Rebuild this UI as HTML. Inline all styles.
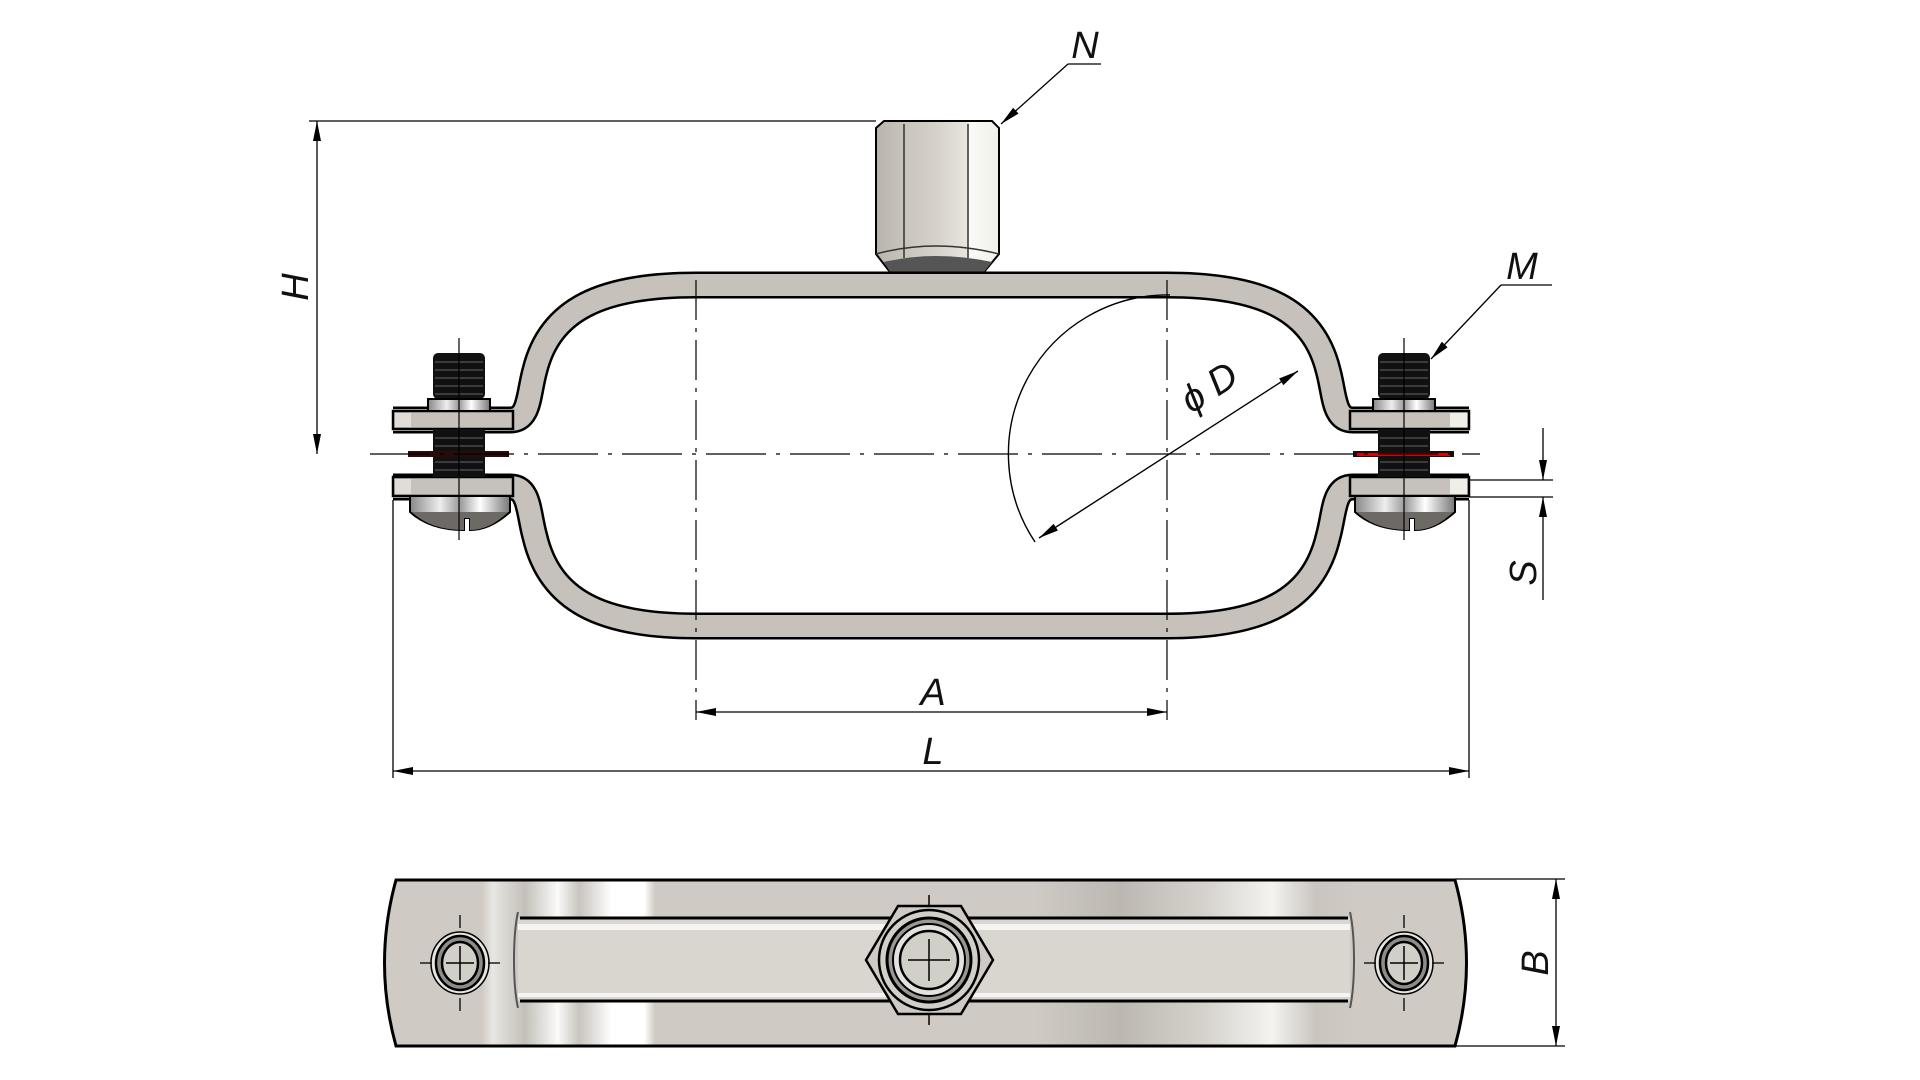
<!DOCTYPE html>
<html><head><meta charset="utf-8"><style>
html,body{margin:0;padding:0;background:#fff;}
svg{display:block}
text{font-family:"Liberation Sans",sans-serif;font-style:italic;font-size:38px;fill:#111}
</style></head><body>
<svg width="1920" height="1080" viewBox="0 0 1920 1080" xmlns="http://www.w3.org/2000/svg">
<defs>
<marker id="ar" viewBox="0 0 20 8" refX="20" refY="4" markerWidth="20" markerHeight="8" markerUnits="userSpaceOnUse" orient="auto-start-reverse"><path d="M0,0 L20,4 L0,8 z" fill="#000"/></marker>
<linearGradient id="nutg" x1="0" x2="1" y1="0" y2="0">
<stop offset="0" stop-color="#b9b5ae"/><stop offset="0.25" stop-color="#c9c5bd"/><stop offset="0.5" stop-color="#d6d2ca"/><stop offset="0.75" stop-color="#e8e6e0"/><stop offset="0.76" stop-color="#fafaf6"/><stop offset="1" stop-color="#f0efe9"/></linearGradient>
<linearGradient id="headg" x1="0" x2="1"><stop offset="0" stop-color="#888"/><stop offset="0.3" stop-color="#eee"/><stop offset="0.5" stop-color="#999"/><stop offset="0.7" stop-color="#fff"/><stop offset="1" stop-color="#777"/></linearGradient>
<linearGradient id="botg" x1="0" x2="1">
<stop offset="0" stop-color="#cfcbc4"/><stop offset="0.09" stop-color="#cfcbc4"/><stop offset="0.1" stop-color="#e8e6e2"/><stop offset="0.13" stop-color="#c4c0b9"/><stop offset="0.16" stop-color="#fafaf8"/><stop offset="0.18" stop-color="#c8c4bd"/><stop offset="0.21" stop-color="#fff"/><stop offset="0.24" stop-color="#fff"/><stop offset="0.25" stop-color="#cfcbc4"/><stop offset="0.6" stop-color="#cfcbc4"/><stop offset="0.68" stop-color="#bcb8b1"/><stop offset="0.76" stop-color="#d6d3cd"/><stop offset="0.82" stop-color="#f4f3f0"/><stop offset="0.86" stop-color="#cac6bf"/><stop offset="0.9" stop-color="#cfcbc4"/><stop offset="1" stop-color="#cfcbc4"/></linearGradient>
</defs>

<line x1="309" y1="121" x2="876" y2="121" stroke="#000" stroke-width="1.3"/>
<line x1="317" y1="121" x2="317" y2="454" stroke="#000" stroke-width="1.3" marker-start="url(#ar)" marker-end="url(#ar)"/>
<text transform="translate(308,287) rotate(-90)" text-anchor="middle">H</text>

<line x1="1101" y1="64" x2="1068" y2="64" stroke="#000" stroke-width="1.3"/>
<line x1="1068" y1="64" x2="1001" y2="124" stroke="#000" stroke-width="1.3" marker-end="url(#ar)"/>
<text x="1085" y="58" text-anchor="middle">N</text>

<path d="M876 128 L884 121 L992 121 L999 128 L999 254 L984 272 L890 272 L876 254 Z" fill="url(#nutg)" stroke="#000" stroke-width="2"/>
<line x1="904" y1="124" x2="904" y2="258" stroke="#333" stroke-width="1.5"/>
<line x1="968" y1="124" x2="968" y2="258" stroke="#333" stroke-width="1.5"/>
<path d="M876 254 Q935 238 999 254" fill="none" stroke="#333" stroke-width="1.5"/>
<path d="M884 262 L890 272 L984 272 L992 262 Q935 250 884 262Z" fill="#555"/>

<g fill="none" stroke-linejoin="round">
<path d="M393 420 L510 420 C530 420 528 395 535 370 C550 310 600 285 696 285 L1167 285 C1263 285 1313 310 1328 370 C1335 395 1333 420 1353 420 L1469 420" stroke="#000" stroke-width="27"/>
<path d="M393 420 L510 420 C530 420 528 395 535 370 C550 310 600 285 696 285 L1167 285 C1263 285 1313 310 1328 370 C1335 395 1333 420 1353 420 L1469 420" stroke="#c6c2bb" stroke-width="22"/>
<path d="M393 487 L510 487 C530 487 528 512 535 537 C550 600 600 626 696 626 L1167 626 C1263 626 1313 600 1328 537 C1335 512 1333 487 1353 487 L1469 487" stroke="#000" stroke-width="27"/>
<path d="M393 487 L510 487 C530 487 528 512 535 537 C550 600 600 626 696 626 L1167 626 C1263 626 1313 600 1328 537 C1335 512 1333 487 1353 487 L1469 487" stroke="#c6c2bb" stroke-width="22"/>
</g>
<rect x="393" y="411" width="120" height="18" fill="#c6c2bb" stroke="#000" stroke-width="2.5"/>
<rect x="395" y="413" width="16" height="14" fill="#e0ddd8"/>
<rect x="393" y="477" width="120" height="19" fill="#c6c2bb" stroke="#000" stroke-width="2.5"/>
<rect x="395" y="479" width="16" height="15" fill="#e0ddd8"/>
<rect x="1350" y="411" width="119" height="18" fill="#c6c2bb" stroke="#000" stroke-width="2.5"/>
<rect x="1450" y="413" width="17" height="14" fill="#f0eee9"/>
<rect x="1350" y="477" width="119" height="19" fill="#c6c2bb" stroke="#000" stroke-width="2.5"/>
<rect x="1450" y="479" width="17" height="15" fill="#f0eee9"/>

<g id="boltL">
<rect x="433" y="353" width="52" height="46" rx="5" fill="#111"/>
<g stroke="#555" stroke-width="1.2"><line x1="435" y1="362" x2="483" y2="362"/><line x1="435" y1="370" x2="483" y2="370"/><line x1="435" y1="378" x2="483" y2="378"/><line x1="435" y1="386" x2="483" y2="386"/><line x1="435" y1="394" x2="483" y2="394"/></g>
<rect x="428" y="399" width="62" height="12" fill="url(#headg)" stroke="#000" stroke-width="2"/>
<rect x="433" y="429" width="52" height="48" fill="#111"/>
<g stroke="#555" stroke-width="1.2"><line x1="435" y1="438" x2="483" y2="438"/><line x1="435" y1="446" x2="483" y2="446"/><line x1="435" y1="462" x2="483" y2="462"/><line x1="435" y1="470" x2="483" y2="470"/></g>
<path d="M410 496 L510 496 L510 512 Q490 530 470 530 L470 518 L464 518 L464 530 Q430 530 410 512 Z" fill="url(#headg)" stroke="#000" stroke-width="2"/>
<path d="M412 512 Q430 530 464 530 L464 518 L470 518 L470 530 Q490 530 508 512 Z" fill="#6d6a66"/>
</g>
<use href="#boltL" transform="translate(945,0)"/>
<rect x="408" y="451" width="101" height="6" fill="#2a0a0a"/>
<rect x="1353" y="451" width="101" height="6" fill="#111"/>
<rect x="1357" y="453" width="93" height="3" fill="#d00"/>

<g stroke="#000" stroke-width="1.2" fill="none">
<line x1="370" y1="454" x2="1480" y2="454" stroke-dasharray="60 10 4 10"/>
<line x1="696" y1="280" x2="696" y2="720" stroke-dasharray="40 8 4 8"/>
<line x1="1167" y1="280" x2="1167" y2="720" stroke-dasharray="40 8 4 8"/>
<line x1="459" y1="338" x2="459" y2="540"/>
<line x1="1404" y1="338" x2="1404" y2="540"/>
<path d="M1170 295 A159 159 0 0 0 1035 542" stroke-width="1.4"/>
<line x1="1039" y1="538" x2="1298" y2="371" stroke-width="1.4" marker-start="url(#ar)" marker-end="url(#ar)"/>
</g>
<text transform="translate(1216,398) rotate(-33)" text-anchor="middle">ϕ D</text>

<line x1="1552" y1="285" x2="1501" y2="285" stroke="#000" stroke-width="1.3"/>
<line x1="1501" y1="285" x2="1431" y2="359" stroke="#000" stroke-width="1.3" marker-end="url(#ar)"/>
<text x="1522" y="279" text-anchor="middle">M</text>

<line x1="696" y1="712" x2="1167" y2="712" stroke="#000" stroke-width="1.3" marker-start="url(#ar)" marker-end="url(#ar)"/>
<text x="933" y="705" text-anchor="middle">A</text>
<line x1="393" y1="500" x2="393" y2="778" stroke="#000" stroke-width="1.3"/>
<line x1="1469" y1="500" x2="1469" y2="778" stroke="#000" stroke-width="1.3"/>
<line x1="393" y1="771" x2="1469" y2="771" stroke="#000" stroke-width="1.3" marker-start="url(#ar)" marker-end="url(#ar)"/>
<text x="933" y="764" text-anchor="middle">L</text>

<line x1="1469" y1="480" x2="1553" y2="480" stroke="#000" stroke-width="1.3"/>
<line x1="1469" y1="497" x2="1553" y2="497" stroke="#000" stroke-width="1.3"/>
<line x1="1543" y1="428" x2="1543" y2="480" stroke="#000" stroke-width="1.3" marker-end="url(#ar)"/>
<line x1="1543" y1="600" x2="1543" y2="497" stroke="#000" stroke-width="1.3" marker-end="url(#ar)"/>
<text transform="translate(1536,573) rotate(-90)" text-anchor="middle">S</text>

<path d="M396 880 L1455 880 Q1478 963 1455 1046 L396 1046 Q373 963 396 880 Z" fill="url(#botg)" stroke="#000" stroke-width="3"/>
<path d="M518 918 L1350 918 L1350 1001 L518 1001 Z" fill="#d9d6d0"/>
<rect x="518" y="924" width="832" height="6" fill="#f5f4f2"/>
<rect x="518" y="993" width="832" height="4" fill="#f5f4f2"/>
<line x1="520" y1="918" x2="1348" y2="918" stroke="#000" stroke-width="3"/>
<line x1="520" y1="1001" x2="1348" y2="1001" stroke="#000" stroke-width="3"/>
<path d="M518 912 Q514 930 514 960 Q514 990 518 1008" fill="none" stroke="#555" stroke-width="2"/>
<path d="M1350 912 Q1354 930 1354 960 Q1354 990 1350 1008" fill="none" stroke="#555" stroke-width="2"/>
<path d="M866 960 L898 906 L961 906 L993 960 L961 1014 L898 1014 Z" fill="#cfcbc4" stroke="#000" stroke-width="2.5"/>
<circle cx="929" cy="960" r="50" fill="#d2cec8" stroke="#000" stroke-width="2.5"/>
<circle cx="929" cy="960" r="42" fill="#9a9894" stroke="#000" stroke-width="3"/>
<circle cx="929" cy="960" r="36" fill="#e4e2de" stroke="#000" stroke-width="2"/>
<circle cx="929" cy="960" r="29" fill="#d2cec8" stroke="#000" stroke-width="2.5"/>
<g stroke="#000" stroke-width="1.5">
<line x1="908" y1="960" x2="950" y2="960"/><line x1="929" y1="939" x2="929" y2="981"/>
<line x1="929" y1="895" x2="929" y2="905"/><line x1="929" y1="1015" x2="929" y2="1025"/>
</g>
<g id="hole" fill="none" stroke="#000">
<ellipse cx="460" cy="963" rx="29" ry="31" fill="#e7e5e1" stroke-width="1.5"/>
<ellipse cx="460" cy="963" rx="24" ry="27" fill="#8e8c88" stroke-width="2.5"/>
<ellipse cx="460" cy="963" rx="18" ry="21" fill="#d2cec8" stroke-width="2.5"/>
<line x1="446" y1="963" x2="474" y2="963" stroke-width="1.5"/><line x1="460" y1="946" x2="460" y2="980" stroke-width="1.5"/>
<line x1="420" y1="963" x2="432" y2="963" stroke-width="1.3"/><line x1="488" y1="963" x2="500" y2="963" stroke-width="1.3"/>
<line x1="460" y1="915" x2="460" y2="928" stroke-width="1.3"/><line x1="460" y1="998" x2="460" y2="1011" stroke-width="1.3"/>
</g>
<use href="#hole" transform="translate(944,0)"/>

<line x1="1455" y1="879" x2="1565" y2="879" stroke="#000" stroke-width="1.3"/>
<line x1="1455" y1="1046" x2="1565" y2="1046" stroke="#000" stroke-width="1.3"/>
<line x1="1556" y1="879" x2="1556" y2="1046" stroke="#000" stroke-width="1.3" marker-start="url(#ar)" marker-end="url(#ar)"/>
<text transform="translate(1548,963) rotate(-90)" text-anchor="middle">B</text>
</svg>
</body></html>
